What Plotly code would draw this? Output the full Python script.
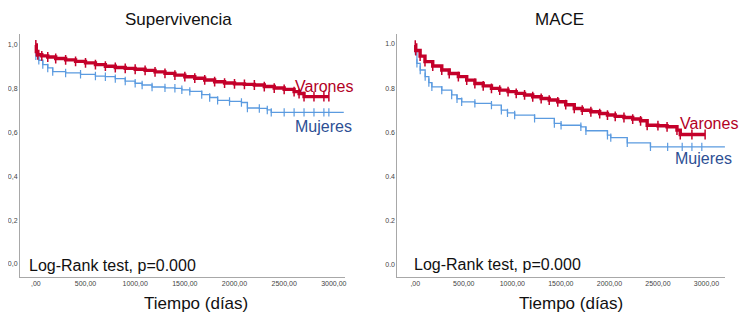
import plotly.graph_objects as go

W, H = 750, 328
OFF = 8  # page body margin of the rendered html

# ---------------- data ----------------
# Supervivencia (left)
sup_var_t = [0, 5, 20, 60, 120, 200, 300, 400, 500, 600, 700, 800, 900, 1000, 1100, 1200, 1300,
             1400, 1500, 1600, 1700, 1800, 1900, 2000, 2100, 2200, 2300, 2400, 2500, 2600, 2650,
             2700, 2800, 2900, 2950]
sup_var_s = [1.0, 0.97, 0.955, 0.95, 0.945, 0.938, 0.932, 0.925, 0.918, 0.910, 0.903, 0.897, 0.893,
             0.889, 0.884, 0.877, 0.870, 0.862, 0.855, 0.848, 0.840, 0.832, 0.826, 0.822, 0.820,
             0.817, 0.810, 0.803, 0.797, 0.787, 0.778, 0.764, 0.764, 0.764, 0.764]
sup_muj_t = [0, 30, 70, 120, 170, 300, 450, 600, 700, 800, 900, 1000, 1070, 1170, 1300, 1400, 1470,
             1550, 1670, 1750, 1830, 1950, 2070, 2130, 2250, 2330, 2370, 2500, 2600, 2700, 2800,
             2900, 2950]
sup_muj_s = [0.95, 0.93, 0.91, 0.895, 0.878, 0.872, 0.866, 0.858, 0.855, 0.846, 0.835, 0.825, 0.817,
             0.808, 0.804, 0.802, 0.795, 0.788, 0.773, 0.760, 0.747, 0.742, 0.737, 0.712, 0.710,
             0.703, 0.692, 0.692, 0.692, 0.692, 0.692, 0.692, 0.692]
sup_muj_end = 3100

# MACE (right)
mace_var_t = [0, 5, 50, 100, 180, 273, 350, 444, 530, 614, 700, 785, 870, 956, 1040, 1126, 1210,
              1297, 1380, 1468, 1550, 1638, 1720, 1809, 1900, 1980, 2060, 2150, 2240, 2321, 2389,
              2500, 2594, 2696, 2730, 2850, 2986]
mace_var_s = [0.995, 0.97, 0.945, 0.92, 0.90, 0.882, 0.866, 0.852, 0.836, 0.821, 0.810, 0.799, 0.791,
              0.784, 0.776, 0.769, 0.761, 0.753, 0.746, 0.738, 0.725, 0.708, 0.700, 0.693, 0.685,
              0.678, 0.672, 0.667, 0.660, 0.652, 0.632, 0.630, 0.625, 0.610, 0.590, 0.590, 0.590]
mace_muj_t = [0, 17, 51, 102, 140, 171, 273, 375, 430, 478, 614, 785, 887, 950, 1024, 1229, 1433,
              1502, 1706, 1758, 1980, 2014, 2184, 2423, 2600, 2750, 2850, 2952]
mace_muj_s = [0.97, 0.912, 0.882, 0.852, 0.825, 0.806, 0.791, 0.769, 0.752, 0.738, 0.731, 0.723,
              0.700, 0.688, 0.678, 0.663, 0.640, 0.632, 0.625, 0.607, 0.587, 0.576, 0.552, 0.534,
              0.534, 0.534, 0.534, 0.534]
mace_muj_end = 3190

titles = ["Supervivencia", "MACE"]
x_title = "Tiempo (días)"
series_names = ["Varones", "Mujeres"]
stat_text = "Log-Rank test, p=0.000"
x_tickvals = [0, 500, 1000, 1500, 2000, 2500, 3000]
x_ticktext = [",00", "500,00", "1000,00", "1500,00", "2000,00", "2500,00", "3000,00"]
y_tickvals = [0.0, 0.2, 0.4, 0.6, 0.8, 1.0]
y_ticktext_left = ["0,0", "0,2", "0,4", "0,6", "0,8", "1,0"]
y_ticktext_right = ["0.0", "0.2", "0.4", "0.6", "0.8", "1.0"]

# ---------------- styles ----------------
RED = "#c4002a"
BLUE_LINE = "#5b9be0"
RED_LABEL = "#b3001f"
BLUE_LABEL = "#2d4f94"
FONT = "Liberation Sans, Arial, sans-serif"


def px_x(p):
    return (p - OFF) / W


def px_y(p):
    return 1 - (p - OFF) / H


fig = go.Figure()


def add_panel(xa, ya, var_t, var_s, muj_t, muj_s, muj_end):
    fig.add_trace(go.Scatter(x=muj_t + [muj_end], y=muj_s + [muj_s[-1]], mode="lines",
                             line=dict(color=BLUE_LINE, width=1.3, shape="hv"), xaxis=xa, yaxis=ya,
                             showlegend=False, hoverinfo="skip"))
    fig.add_trace(go.Scatter(x=muj_t, y=muj_s, mode="markers",
                             marker=dict(symbol="line-ns-open", size=6, color=BLUE_LINE,
                                         line=dict(color=BLUE_LINE, width=1.2)),
                             xaxis=xa, yaxis=ya, showlegend=False, name=series_names[1]))
    fig.add_trace(go.Scatter(x=var_t, y=var_s, mode="lines+markers",
                             line=dict(color=RED, width=3.4, shape="hv"),
                             marker=dict(symbol="line-ns-open", size=7, color=RED,
                                         line=dict(color=RED, width=1.5)),
                             xaxis=xa, yaxis=ya, showlegend=False, name=series_names[0]))


add_panel("x", "y", sup_var_t, sup_var_s, sup_muj_t, sup_muj_s, sup_muj_end)
add_panel("x2", "y2", mace_var_t, mace_var_s, mace_muj_t, mace_muj_s, mace_muj_end)

ydom = [px_y(277), px_y(34)]
axis_common = dict(showgrid=False, zeroline=False, showline=True, linecolor="#a8a8a8", linewidth=1,
                   ticks="", tickfont=dict(family=FONT, size=7, color="#444"))

fig.update_layout(
    width=W, height=H, margin=dict(l=0, r=0, t=0, b=0),
    paper_bgcolor="white", plot_bgcolor="white",
    xaxis=dict(domain=[px_x(17), px_x(344)], range=[-160, 3110], tickvals=x_tickvals,
               ticktext=x_ticktext, anchor="y", **axis_common),
    yaxis=dict(domain=ydom, range=[-0.06, 1.05], tickvals=y_tickvals, ticktext=y_ticktext_left,
               anchor="x", **axis_common),
    xaxis2=dict(domain=[px_x(397), px_x(727)], range=[-184, 3193], tickvals=x_tickvals,
                ticktext=x_ticktext, anchor="y2", **axis_common),
    yaxis2=dict(domain=ydom, range=[-0.055, 1.045], tickvals=y_tickvals, ticktext=y_ticktext_right,
                anchor="x2", **axis_common),
)

ann = []


def text(t, x, y, size, color, xanchor="center"):
    ann.append(dict(text=t, x=px_x(x), y=px_y(y), xref="paper", yref="paper",
                    xanchor=xanchor, yanchor="middle", showarrow=False,
                    font=dict(family=FONT, size=size, color=color)))


text(titles[0], 177, 19, 17, "#111")
text(titles[1], 560, 19, 17, "#111")
text(x_title, 194, 303, 17, "#111")
text(x_title, 572, 303, 17, "#111")
text(stat_text, 24, 265, 16, "#111", "left")
text(stat_text, 412, 264, 16, "#111", "left")
text(series_names[0], 292, 86, 16, RED_LABEL, "left")
text(series_names[1], 292, 126, 16, BLUE_LABEL, "left")
text(series_names[0], 679, 123, 16, RED_LABEL, "left")
text(series_names[1], 674, 158, 16, BLUE_LABEL, "left")
fig.update_layout(annotations=ann)

fig.write_html("out.html")
